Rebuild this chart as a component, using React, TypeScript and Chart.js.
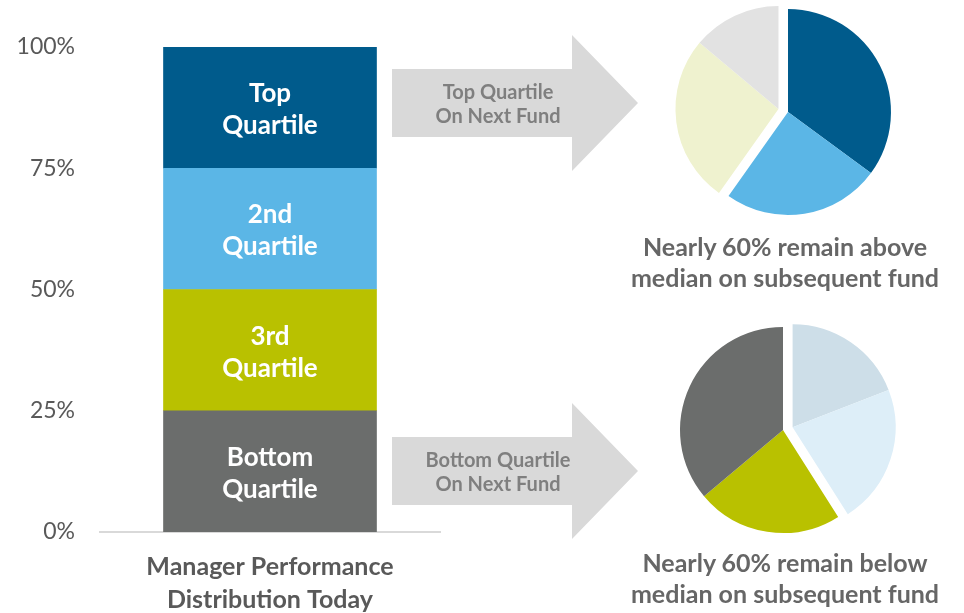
import React, { useEffect, useRef } from "react";
import { Chart, registerables } from "chart.js";

Chart.register(...registerables);

// ---- data ----
const barCategory = [["Manager Performance", "Distribution Today"]];
const quartileNames = ["Bottom", "3rd", "2nd", "Top"];
const quartileLabelLines = [["Bottom", "Quartile"], ["3rd", "Quartile"], ["2nd", "Quartile"], ["Top", "Quartile"]];
const quartileShares = [25, 25, 25, 25];
const quartileColors = ["#6B6D6C", "#B9C100", "#5BB6E6", "#005B8C"];
const yTickValues = [0, 25, 50, 75, 100];

const nextFundLabels = ["Top Quartile", "2nd Quartile", "3rd Quartile", "Bottom Quartile"];
const topPieValues = [35.1, 24.7, 26.3, 13.9];
const topPieColors = ["#005B8C", "#5BB6E6", "#EFF2CF", "#E2E2E2"];
const topPieShifted = [false, false, true, true];
const bottomPieValues = [19.1, 21.9, 22.9, 36.1];
const bottomPieColors = ["#CDDEE8", "#DDEEF8", "#B9C100", "#6B6D6C"];
const bottomPieShifted = [true, true, false, false];

const FONT = "Lato, 'Open Sans', sans-serif";

function makeGroupOffsetPlugin(shifted: boolean[], distance: number) {
  return {
    id: "groupOffset",
    beforeDatasetDraw(chart: any, args: any) {
      const meta = args.meta;
      const ctx = chart.ctx;
      let s = Infinity;
      let e = -Infinity;
      meta.data.forEach((arc: any, i: number) => {
        if (shifted[i]) {
          s = Math.min(s, arc.startAngle);
          e = Math.max(e, arc.endAngle);
        }
      });
      const mid = (s + e) / 2;
      const dx = Math.cos(mid) * distance;
      const dy = Math.sin(mid) * distance;
      meta.data.forEach((arc: any, i: number) => {
        ctx.save();
        if (shifted[i]) ctx.translate(dx, dy);
        arc.draw(ctx);
        ctx.restore();
      });
      return false;
    },
  };
}

const barLabelPlugin = {
  id: "barLabels",
  afterDatasetsDraw(chart: any) {
    const ctx = chart.ctx;
    chart.data.datasets.forEach((ds: any, i: number) => {
      const meta = chart.getDatasetMeta(i);
      const el: any = meta.data[0];
      if (!el) return;
      const cy = (el.y + el.base) / 2 + 2;
      const lines: string[] = quartileLabelLines[i];
      const lh = 32;
      ctx.save();
      ctx.fillStyle = "#FFFFFF";
      ctx.font = `bold 26px ${FONT}`;
      ctx.textAlign = "center";
      ctx.textBaseline = "middle";
      lines.forEach((t, k) => {
        ctx.fillText(t, el.x, cy + (k - (lines.length - 1) / 2) * lh);
      });
      ctx.restore();
    });
  },
};

function BarChart() {
  const ref = useRef<HTMLCanvasElement>(null);
  useEffect(() => {
    const chart = new Chart(ref.current!, {
      type: "bar",
      data: {
        labels: barCategory as any,
        datasets: quartileNames.map((n, i) => ({
          label: n,
          data: [quartileShares[i]],
          backgroundColor: quartileColors[i],
          borderWidth: 0,
          barThickness: 213,
        })),
      },
      options: {
        responsive: false,
        animation: false,
        events: [],
        layout: { padding: { top: 47, right: 20, left: 0, bottom: 0 } },
        plugins: { legend: { display: false }, tooltip: { enabled: false } },
        scales: {
          x: {
            stacked: true,
            grid: { display: false, drawTicks: false },
            border: { display: true, color: "#D9D9D9", width: 2 },
            ticks: {
              color: "#595959",
              padding: 18,
              font: { family: FONT, size: 25, weight: "bold", lineHeight: 1.32 },
            },
            afterFit: (s: any) => {
              s.height = 81;
            },
          },
          y: {
            stacked: true,
            min: 0,
            max: 100,
            grid: { display: false, drawTicks: false },
            border: { display: false },
            afterBuildTicks: (s: any) => {
              s.ticks = yTickValues.map((v) => ({ value: v }));
            },
            ticks: {
              color: "#595959",
              padding: 25,
              font: { family: FONT, size: 23 },
              callback: (v: any) => `${v}%`,
            },
            afterFit: (s: any) => {
              s.width = 100;
            },
          },
        },
      } as any,
      plugins: [barLabelPlugin],
    });
    return () => chart.destroy();
  }, []);
  return <canvas ref={ref} width={460} height={613} style={{ position: "absolute", left: 0, top: 0 }} />;
}

function PieChart(props: { values: number[]; colors: string[]; shifted: boolean[]; left: number; top: number }) {
  const ref = useRef<HTMLCanvasElement>(null);
  useEffect(() => {
    const chart = new Chart(ref.current!, {
      type: "pie",
      data: {
        labels: nextFundLabels,
        datasets: [
          {
            data: props.values,
            backgroundColor: props.colors,
            borderWidth: 0,
            hoverOffset: 0,
            offset: 0,
          },
        ],
      },
      options: {
        responsive: false,
        animation: false,
        events: [],
        layout: { padding: 20 },
        plugins: { legend: { display: false }, tooltip: { enabled: false } },
      } as any,
      plugins: [makeGroupOffsetPlugin(props.shifted, 10)],
    });
    return () => chart.destroy();
  }, []);
  return (
    <canvas
      ref={ref}
      width={246}
      height={246}
      style={{ position: "absolute", left: props.left, top: props.top }}
    />
  );
}

function Arrow(props: { top: number; lines: string[] }) {
  const w = 246;
  const h = 136;
  return (
    <div style={{ position: "absolute", left: 392, top: props.top, width: w, height: h }}>
      <div
        style={{
          position: "absolute",
          inset: 0,
          background: "#D9D9D9",
          clipPath: "polygon(0px 34px, 180px 34px, 180px 0px, 246px 68px, 180px 136px, 180px 102px, 0px 102px)",
        }}
      />
      <div
        style={{
          position: "absolute",
          left: 0,
          width: 212,
          top: 34,
          height: 68,
          display: "flex",
          flexDirection: "column",
          justifyContent: "center",
          alignItems: "center",
          color: "#7F7F7F",
          fontFamily: FONT,
          fontWeight: "bold",
          fontSize: 20,
          lineHeight: "24px",
          textAlign: "center",
          whiteSpace: "nowrap",
        }}
      >
        {props.lines.map((l, i) => (
          <div key={i}>{l}</div>
        ))}
      </div>
    </div>
  );
}

function Caption(props: { top: number; lines: string[] }) {
  return (
    <div
      style={{
        position: "absolute",
        left: 600,
        width: 370,
        top: props.top,
        textAlign: "center",
        color: "#666666",
        fontFamily: FONT,
        fontWeight: "bold",
        fontSize: 25,
        lineHeight: "31px",
        whiteSpace: "nowrap",
      }}
    >
      {props.lines.map((l, i) => (
        <div key={i}>{l}</div>
      ))}
    </div>
  );
}

export default function App() {
  return (
    <div
      style={{
        position: "fixed",
        left: 0,
        top: 0,
        width: 964,
        height: 613,
        background: "#FFFFFF",
        overflow: "hidden",
      }}
    >
      <BarChart />
      <Arrow top={35} lines={["Top Quartile", "On Next Fund"]} />
      <Arrow top={403} lines={["Bottom Quartile", "On Next Fund"]} />
      <PieChart values={topPieValues} colors={topPieColors} shifted={topPieShifted} left={665} top={-11} />
      <PieChart values={bottomPieValues} colors={bottomPieColors} shifted={bottomPieShifted} left={660} top={307} />
      <Caption top={231} lines={["Nearly 60% remain above", "median on subsequent fund"]} />
      <Caption top={547} lines={["Nearly 60% remain below", "median on subsequent fund"]} />
    </div>
  );
}
